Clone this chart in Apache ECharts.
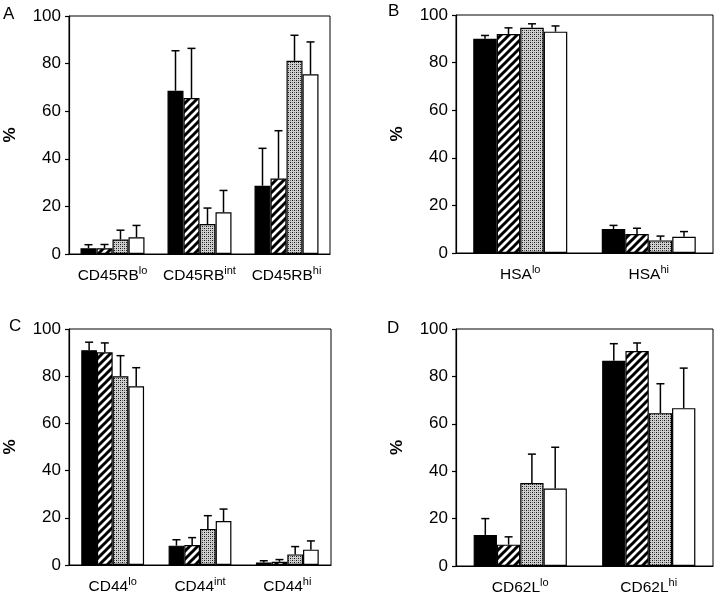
<!DOCTYPE html>
<html><head><meta charset="utf-8">
<script src="https://cdn.jsdelivr.net/npm/echarts@6/dist/echarts.min.js"></script>
<style>html,body{margin:0;padding:0;background:#fff}#c{width:720px;height:598px}</style>
</head><body><div id="c"></div>
<script>
// ---- data ----
const catsA = ['CD45RB^lo', 'CD45RB^int', 'CD45RB^hi'];
const catsB = ['HSA^lo', 'HSA^hi'];
const catsC = ['CD44^lo', 'CD44^int', 'CD44^hi'];
const catsD = ['CD62L^lo', 'CD62L^hi'];
const yTicks = [0, 20, 40, 60, 80, 100];

// Panel A values (black, hatched, dotted, white) and upper error (SD)
const A_black = [2.4, 68.6, 28.7], A_blackErr = [1.5, 16.8, 15.7];
const A_hatch = [2.4, 65.5, 31.7], A_hatchErr = [1.6, 20.9, 20.1];
const A_dot   = [6.1, 12.6, 81.2], A_dotErr   = [3.9, 6.7, 10.7];
const A_white = [7.0, 17.5, 75.5], A_whiteErr = [5.0, 9.2, 13.6];

const B_black = [90.0, 10.1], B_blackErr = [1.4, 1.5];
const B_hatch = [92.0, 8.0],  B_hatchErr = [2.6, 2.4];
const B_dot   = [94.6, 5.3],  B_dotErr   = [1.7, 1.8];
const B_white = [93.0, 6.8],  B_whiteErr = [2.4, 2.2];

const C_black = [91.0, 8.2, 1.1],  C_blackErr = [3.4, 2.5, 0.7];
const C_hatch = [90.1, 8.5, 1.4],  C_hatchErr = [4.0, 3.1, 0.9];
const C_dot   = [80.0, 15.3, 4.5], C_dotErr   = [8.7, 5.6, 3.3];
const C_white = [75.7, 18.6, 6.5], C_whiteErr = [7.9, 5.1, 3.7];

const D_black = [13.1, 86.6], D_blackErr = [6.9, 7.2];
const D_hatch = [9.0, 90.7],  D_hatchErr = [3.3, 3.4];
const D_dot   = [35.0, 64.5], D_dotErr   = [12.2, 12.4];
const D_white = [32.7, 66.6], D_whiteErr = [17.4, 16.9];

// ---- patterns ----
function hatchPattern() {
  const c = document.createElement('canvas'); c.width = 8; c.height = 8;
  const g = c.getContext('2d');
  g.fillStyle = '#fff'; g.fillRect(0, 0, 8, 8);
  g.strokeStyle = '#000'; g.lineWidth = 3;
  [[-8, 8, 8, -8], [0, 8, 8, 0], [0, 16, 16, 0]].forEach(function (l) {
    g.beginPath(); g.moveTo(l[0], l[1]); g.lineTo(l[2], l[3]); g.stroke();
  });
  return { image: c, repeat: 'repeat' };
}
function dotPattern() {
  const c = document.createElement('canvas'); c.width = 4; c.height = 4;
  const g = c.getContext('2d');
  g.fillStyle = '#d0d0d0'; g.fillRect(0, 0, 4, 4);
  g.fillStyle = '#111';
  g.fillRect(0, 0, 1, 1); g.fillRect(2, 2, 1, 1);
  g.fillStyle = '#666';
  g.fillRect(2, 0, 1, 1); g.fillRect(0, 2, 1, 1);
  return { image: c, repeat: 'repeat' };
}
const fills = ['#000', hatchPattern(), dotPattern(), '#fff'];
const FONT = 'Liberation Sans, Arial, Helvetica, sans-serif';

const panels = [
  { cats: catsA, vals: [A_black, A_hatch, A_dot, A_white], errs: [A_blackErr, A_hatchErr, A_dotErr, A_whiteErr],
    grid: { left: 69, top: 16, width: 261, height: 238 }, bw: 16 },
  { cats: catsB, vals: [B_black, B_hatch, B_dot, B_white], errs: [B_blackErr, B_hatchErr, B_dotErr, B_whiteErr],
    grid: { left: 456, top: 15, width: 257, height: 238 }, bw: 23.5 },
  { cats: catsC, vals: [C_black, C_hatch, C_dot, C_white], errs: [C_blackErr, C_hatchErr, C_dotErr, C_whiteErr],
    grid: { left: 69, top: 329, width: 262, height: 236 }, bw: 15.7 },
  { cats: catsD, vals: [D_black, D_hatch, D_dot, D_white], errs: [D_blackErr, D_hatchErr, D_dotErr, D_whiteErr],
    grid: { left: 456, top: 329, width: 257, height: 237 }, bw: 23.3 }
];

function makeErr(bw) {
  return function (params, api) {
    const x = api.value(0), v = api.value(1), e = api.value(2), s = api.value(3);
    const base = api.coord([x, v]);
    const top = api.coord([x, v + e]);
    const cx = base[0] + (s - 1.5) * bw;
    const st = { stroke: '#000', lineWidth: 1.5 };
    return { type: 'group', children: [
      { type: 'line', shape: { x1: cx, y1: base[1], x2: cx, y2: top[1] }, style: st },
      { type: 'line', shape: { x1: cx - 4, y1: top[1], x2: cx + 4, y2: top[1] }, style: st }
    ] };
  };
}

const grids = [], xAxes = [], yAxes = [], series = [];
panels.forEach(function (p, gi) {
  grids.push(Object.assign({ show: true, borderColor: '#000', borderWidth: 1, backgroundColor: 'transparent' }, p.grid));
  xAxes.push({
    type: 'category', gridIndex: gi, data: p.cats,
    axisTick: { show: false },
    axisLine: { lineStyle: { color: '#000', width: 1.2 } },
    axisLabel: {
      margin: 12, color: '#000', interval: 0,
      formatter: function (v) { const t = v.split('^'); return '{b|' + t[0] + '}{s|' + t[1] + '}'; },
      rich: {
        b: { fontSize: 15.5, fontFamily: FONT, color: '#000', lineHeight: 18, verticalAlign: 'bottom' },
        s: { fontSize: 11, fontFamily: FONT, color: '#000', lineHeight: 18, verticalAlign: 'bottom', padding: [0, 0, 8, 0] }
      }
    }
  });
  yAxes.push({
    type: 'value', gridIndex: gi, min: yTicks[0], max: yTicks[yTicks.length - 1], interval: 20,
    name: '%', nameLocation: 'middle', nameRotate: 90, nameGap: 50,
    nameTextStyle: { fontSize: 17, fontWeight: 'bold', fontFamily: FONT, color: '#000' },
    axisLine: { show: true, lineStyle: { color: '#000', width: 1.2 } },
    axisTick: { show: true, length: 4, lineStyle: { color: '#000', width: 1.2 } },
    splitLine: { show: false },
    axisLabel: { fontSize: 17, fontFamily: FONT, color: '#000', margin: 8 }
  });
  p.vals.forEach(function (vals, si) {
    series.push({
      type: 'bar', xAxisIndex: gi, yAxisIndex: gi, data: vals, barWidth: p.bw, barGap: '0%',
      itemStyle: { color: fills[si], borderColor: '#000', borderWidth: 1.2 }, silent: true, animation: false
    });
  });
  const errData = [];
  p.vals.forEach(function (vals, si) {
    vals.forEach(function (v, ci) { errData.push([ci, v, p.errs[si][ci], si]); });
  });
  series.push({
    type: 'custom', xAxisIndex: gi, yAxisIndex: gi, data: errData, renderItem: makeErr(p.bw),
    encode: { x: 0, y: 1 }, silent: true, animation: false, z: 5
  });
});

const letters = [['A', 3, 6], ['B', 388, 3], ['C', 9, 318], ['D', 387, 320]];
const chart = echarts.init(document.getElementById('c'), null, { renderer: 'canvas' });
chart.setOption({
  animation: false,
  backgroundColor: '#fff',
  grid: grids, xAxis: xAxes, yAxis: yAxes, series: series,
  graphic: letters.map(function (l) {
    return { type: 'text', left: l[1], top: l[2], style: { text: l[0], font: '17px ' + FONT, fill: '#000' } };
  })
});
</script></body></html>
